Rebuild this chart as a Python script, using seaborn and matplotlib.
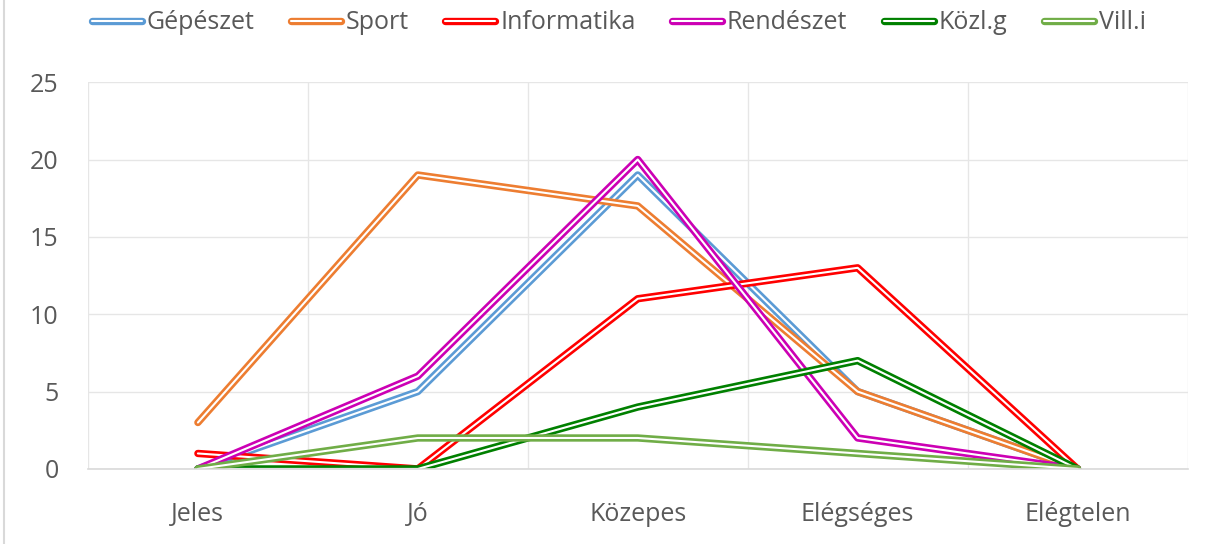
import matplotlib
matplotlib.use('Agg')
import matplotlib.pyplot as plt
import matplotlib.patheffects as pe
import seaborn as sns
import pandas as pd

kategoriak = ['Jeles', 'Jó', 'Közepes', 'Elégséges', 'Elégtelen']
szakok = ['Gépészet', 'Sport', 'Informatika', 'Rendészet', 'Közl.g', 'Vill.i']
gepeszet = [0, 5, 19, 5, 0]
sport = [3, 19, 17, 5, 0]
informatika = [1, 0, 11, 13, 0]
rendeszet = [0, 6, 20, 2, 0]
kozlg = [0, 0, 4, 7, 0]
villi = [0, 2, 2, 1, 0]
szinek = ['#5B9BD5', '#ED7D31', '#FF0000', '#CC00B4', '#008000', '#70AD47']

ertekek = [gepeszet, sport, informatika, rendeszet, kozlg, villi]
df = pd.DataFrame([
    {'kategoria': k, 'x': i, 'szak': s, 'db': v[i]}
    for s, v in zip(szakok, ertekek)
    for i, k in enumerate(kategoriak)
])

sns.set_style('white')
plt.rcParams['font.family'] = ['Open Sans', 'DejaVu Sans']
szurke = '#595959'

fig = plt.figure(figsize=(12.13, 5.44), dpi=100)
ax = fig.add_axes([0.0725, 0.138, 0.9065, 0.711])

sns.lineplot(data=df, x='x', y='db', hue='szak', hue_order=szakok,
             palette=szinek, sort=False, legend=False, ax=ax)

# Excel-szeru dupla vonal: szines kontur, feher belso
for vonal, c in zip(ax.get_lines(), szinek):
    vonal.set_color('white')
    vonal.set_linewidth(1.5)
    vonal.set_path_effects([pe.Stroke(linewidth=5.3, foreground=c), pe.Normal()])

ax.set_xlim(-0.5, 4.5)
ax.set_ylim(0, 25)
ax.set_yticks(range(0, 26, 5))
ax.set_xticks(range(5))
ax.set_xticklabels(kategoriak)
ax.set_xticks([x + 0.5 for x in range(-1, 5)], minor=True)
ax.grid(True, which='major', axis='y', color='#E6E6E6', lw=1)
ax.grid(True, which='minor', axis='x', color='#E6E6E6', lw=1)
ax.tick_params(axis='both', which='both', length=0, labelsize=18, colors=szurke)
ax.tick_params(axis='x', pad=24)
ax.tick_params(axis='y', pad=21)
ax.set_xlabel('')
ax.set_ylabel('')
for s in ['top', 'right', 'left']:
    ax.spines[s].set_visible(False)
ax.spines['bottom'].set_color('#D9D9D9')
ax.spines['bottom'].set_linewidth(1.2)

kezelok = []
for s, c in zip(szakok, szinek):
    h, = ax.plot([], [], color='white', lw=1.5, label=s,
                 path_effects=[pe.Stroke(linewidth=5.3, foreground=c), pe.Normal()])
    kezelok.append(h)
leg = fig.legend(handles=kezelok, loc='center', bbox_to_anchor=(0.51, 0.958), ncol=6,
                 frameon=False, fontsize=18, handlelength=2.0, handletextpad=0.2,
                 columnspacing=1.45)
for t in leg.get_texts():
    t.set_color(szurke)

fig.add_artist(plt.Line2D([0.003, 0.003], [0, 1], transform=fig.transFigure,
                          color='#D9D9D9', lw=1.5))

fig.savefig('out.png', dpi=100)
